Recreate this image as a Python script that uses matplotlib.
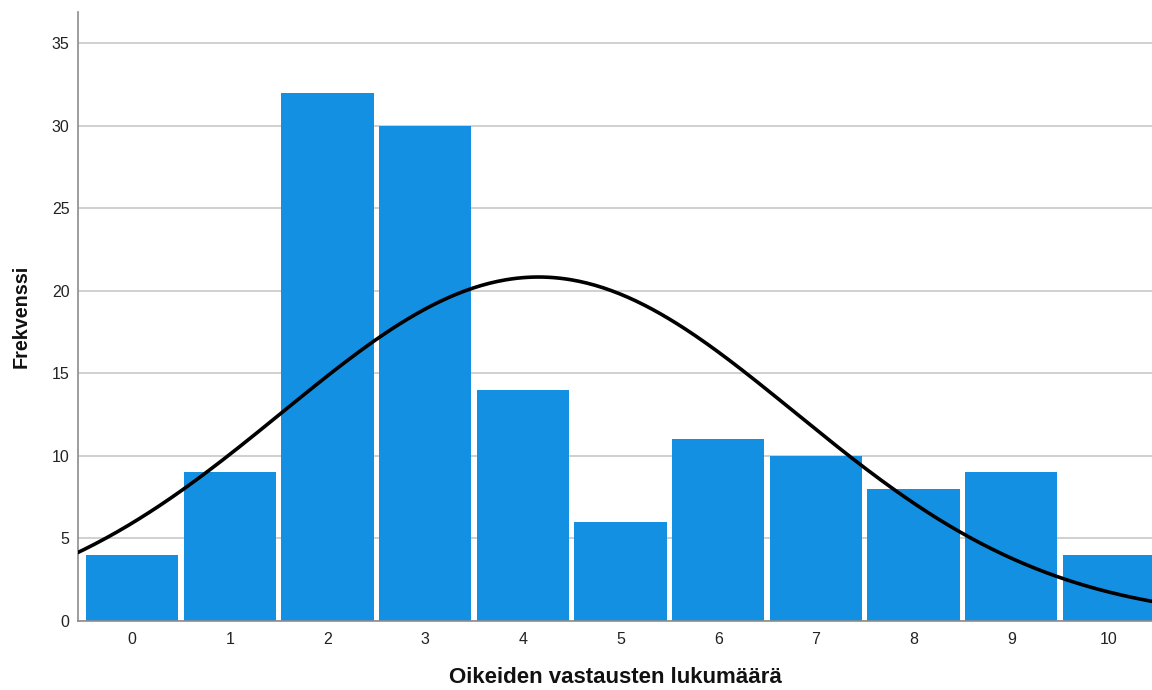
import matplotlib
import matplotlib.pyplot as plt
import numpy as np

matplotlib.use("Agg")

# --- Data ---
scores = [0, 1, 2, 3, 4, 5, 6, 7, 8, 9, 10]
counts = [4, 9, 32, 30, 14, 6, 11, 10, 8, 9, 4]
y_ticks = [0, 5, 10, 15, 20, 25, 30, 35]

BAR_COLOR = "#1490e2"
GRID_COLOR = "#c4c4c4"
SPINE_COLOR = "#8c8c8c"

plt.rcParams["font.family"] = ["Liberation Sans", "DejaVu Sans"]

fig = plt.figure(figsize=(11.52, 6.9), dpi=100)
ax = fig.add_axes([0.0677, 0.1, 0.9323, 0.882])

ax.bar(scores, counts, width=0.945, color=BAR_COLOR, zorder=2)

# normal curve fitted to the frequencies (SPSS style)
x_arr = np.array(scores, dtype=float)
c_arr = np.array(counts, dtype=float)
n = c_arr.sum()
mean = (x_arr * c_arr).sum() / n
sd = np.sqrt(((x_arr - mean) ** 2 * c_arr).sum() / (n - 1))
xs = np.linspace(-0.6, 10.5, 400)
ys = n / (sd * np.sqrt(2 * np.pi)) * np.exp(-0.5 * ((xs - mean) / sd) ** 2)
ax.plot(xs, ys, color="black", linewidth=2.6, zorder=3, solid_capstyle="butt")

ax.set_xlim(-0.553, 10.44)
ax.set_ylim(0, 36.85)
ax.set_xticks(scores)
ax.set_yticks(y_ticks)
ax.tick_params(axis="both", length=0, labelsize=11.5, labelcolor="#222222")
ax.tick_params(axis="x", pad=8)
ax.tick_params(axis="y", pad=6)

ax.yaxis.grid(True, color=GRID_COLOR, linewidth=1.1, zorder=1)
ax.set_axisbelow(True)

for side in ["top", "right"]:
    ax.spines[side].set_visible(False)
for side in ["left", "bottom"]:
    ax.spines[side].set_color(SPINE_COLOR)
    ax.spines[side].set_linewidth(1.2)

ax.set_xlabel("Oikeiden vastausten lukumäärä", fontsize=16, fontweight="bold",
              color="#111111", labelpad=14)
ax.set_ylabel("Frekvenssi", fontsize=14.2, fontweight="bold",
              color="#111111", labelpad=15)

fig.savefig("out.png", dpi=100)
